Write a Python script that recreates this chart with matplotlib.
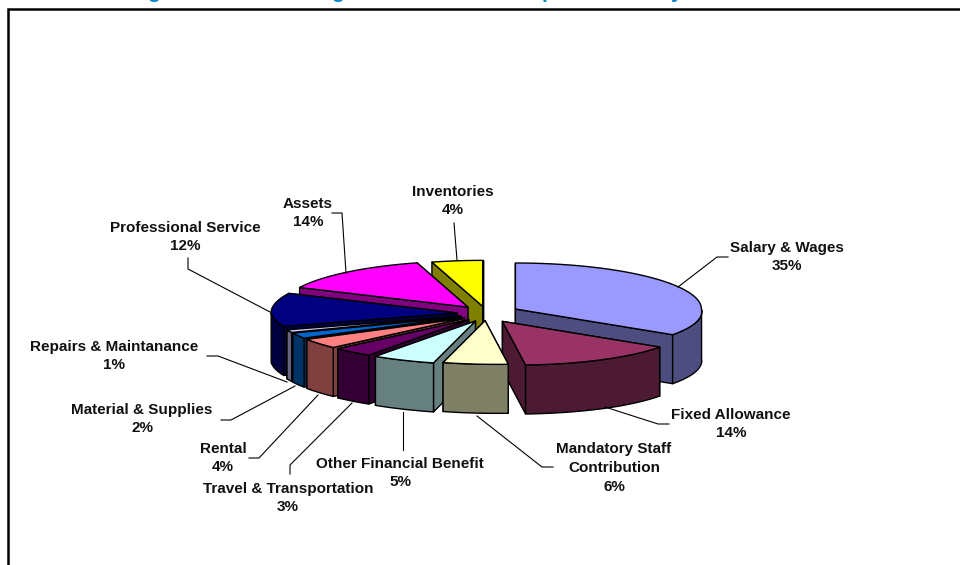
import numpy as np
from matplotlib import pyplot as plt
from matplotlib.patches import Polygon

labels = ["Salary & Wages", "Fixed Allowance", "Mandatory Staff\nContribution", "Other Financial Benefit",
    "Travel & Transportation", "Rental", "Material & Supplies", "Repairs & Maintanance",
    "Professional Service", "Assets", "Inventories"]
# slice sizes, the labels show them rounded
values = [35, 14, 5.6, 5.4, 3.4, 3.6, 2, 1, 12, 13.6, 4.4]
colors = ["#9999FF", "#993366", "#FFFFCC", "#CCFFFF", "#660066", "#FF8080", "#0066CC", "#CCCCFF",
    "#000080", "#FF00FF", "#FFFF00"]
explode = [33, 30, 24, 28, 28, 28, 28, 28, 29, 28, 24]

# label centre of the whole block, then the bend of the leader line
label_pos = [(787, 257), (731, 424), (614, 468), (400, 473), (288, 498), (223, 458), (142, 419), (114, 356),
    (185, 237), (308, 213), (453, 201)]
leaders = [
    [(678, 287), (717, 257), (728, 257)],
    [(605, 407), (658, 424), (669, 424)],
    [(477, 416), (542, 467), (553, 467)],
    [(403, 412), (403, 450)],
    [(352, 403), (290, 465), (290, 474)],
    [(318, 395), (259, 458), (249, 458)],
    [(295, 386), (231, 420), (221, 420)],
    [(287, 382), (218, 356), (207, 356)],
    [(270, 312), (188, 269), (188, 258)],
    [(346, 273), (342, 213), (332, 213)],
    [(457, 260), (454, 223)],
]
# far slices first so the near ones paint over them
draw_order = [10, 9, 0, 8, 7, 6, 5, 4, 3, 1, 2]

CX, CY = 486, 313.5
RX, RY = 186, 46
NEAR_Y = 0.95
DEPTH = 49
SHEAR = 0.25
EXPLODE_Y = 0.3

plt.rcParams["font.family"] = ["Liberation Sans", "DejaVu Sans"]


def project(theta):
    dy = -np.cos(theta) * RY
    dx = np.sin(theta) * RX + SHEAR * np.maximum(dy, 0)
    return dx, np.where(dy > 0, dy * NEAR_Y, dy)


def darken(c):
    return tuple(v * 0.5 for v in plt.matplotlib.colors.to_rgb(c))


def draw_slice(ax, start, end, color, off):
    mid = (start + end) / 2
    dy0 = -np.cos(mid) * off * EXPLODE_Y
    ax0 = CX + np.sin(mid) * off + SHEAR * max(dy0, 0)
    ay0 = CY + dy0
    side = darken(color)
    kw = dict(edgecolor="black", linewidth=1, joinstyle="round")

    t = np.linspace(start, end, 80)
    dx, dy = project(t)
    xs, ys = ax0 + dx, ay0 + dy

    # cut walls, the one with the farther rim end goes first
    for i in sorted((0, -1), key=lambda k: ys[k]):
        ax.add_patch(Polygon([(ax0, ay0), (xs[i], ys[i]), (xs[i], ys[i] + DEPTH), (ax0, ay0 + DEPTH)],
            facecolor=side, **kw))
    # rim wall, only the part turned to the viewer
    vis = (t > np.pi / 2) & (t < 3 * np.pi / 2)
    if vis.sum() > 1:
        top = np.column_stack([xs[vis], ys[vis]])
        bottom = top[::-1] + [0, DEPTH]
        ax.add_patch(Polygon(np.vstack([top, bottom]), facecolor=side, **kw))
    ax.add_patch(Polygon(np.vstack([[(ax0, ay0)], np.column_stack([xs, ys])]), facecolor=color, **kw))


fig = plt.figure(figsize=(9.6, 5.65), dpi=100)
ax = fig.add_axes([0, 0, 1, 1])
ax.set_xlim(0, 960)
ax.set_ylim(565, 0)
ax.axis("off")

# frame of the page, open on the right and at the bottom
ax.plot([8, 8, 960], [565, 8.5, 8.5], color="black", linewidth=1.8, solid_joinstyle="miter")

# only the descenders of the heading are left in the crop
for x, ch in zip([153, 337, 548, 677], "ggpy"):
    ax.text(x, -8, ch, color="#0A86C8", fontsize=15, fontweight="bold", ha="center", va="center")

edges = np.cumsum([0] + values) / sum(values) * 2 * np.pi
for i in draw_order:
    draw_slice(ax, edges[i], edges[i + 1], colors[i], explode[i])

for i, name in enumerate(labels):
    pts = np.array(leaders[i])
    ax.plot(pts[:, 0], pts[:, 1], color="black", linewidth=0.8)
    ax.text(label_pos[i][0], label_pos[i][1], f"{name}\n{values[i]:.0f}%", ha="center", va="center",
        fontsize=11, fontweight="bold", color="#111111", linespacing=1.45)

fig.savefig("out.png", dpi=100)
